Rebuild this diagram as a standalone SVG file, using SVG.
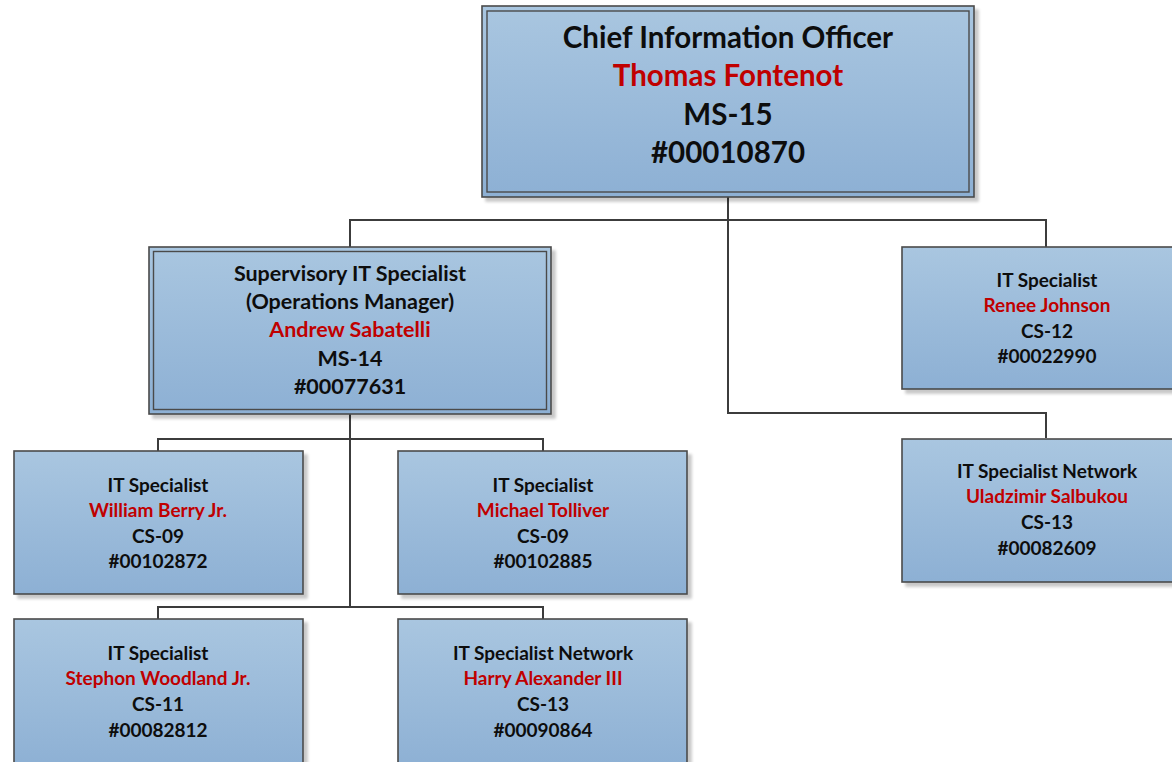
<svg xmlns="http://www.w3.org/2000/svg" width="1172" height="762" viewBox="0 0 1172 762">
  <defs>
    <linearGradient id="boxFill" x1="0" y1="0" x2="0" y2="1">
      <stop offset="0" stop-color="#a9c6e0"/>
      <stop offset="1" stop-color="#8db0d4"/>
    </linearGradient>
    <filter id="drop" x="-5%" y="-5%" width="115%" height="115%">
      <feGaussianBlur in="SourceAlpha" stdDeviation="1.5"/>
      <feOffset dx="4" dy="4"/>
      <feComponentTransfer><feFuncA type="linear" slope="0.22"/></feComponentTransfer>
      <feMerge><feMergeNode/><feMergeNode in="SourceGraphic"/></feMerge>
    </filter>
  </defs>
  <style>
    .box { fill: url(#boxFill); stroke: #4a4a4a; stroke-width: 1.6; filter: url(#drop); }
    .inner { fill: none; stroke: #4a4a4a; stroke-width: 1.4; }
    .link { fill: none; stroke: #3c3c3c; stroke-width: 2; }
    text { font-family: Lato, "Open Sans", "Liberation Sans", sans-serif; font-weight: bold; text-anchor: middle; fill: #0d0d0d; }
    .big { font-size: 29.5px; }
    .mid { font-size: 21.5px; }
    .sm { font-size: 19px; }
    .name { fill: #c00000; }
  </style>

  <rect width="1172" height="762" fill="#ffffff"/>

  <g id="connectors">
    <path class="link" d="M728 197 V220 M350 248 V220 H1046 V247"/>
    <path class="link" d="M728 220 V413 H1046 V438"/>
    <path class="link" d="M350 414 V607"/>
    <path class="link" d="M158 451 V439 H543 V451"/>
    <path class="link" d="M158 619 V607 H543 V619"/>
  </g>

  <g id="cio">
    <rect class="box" x="482" y="6" width="492" height="191"/>
    <rect class="inner" x="487" y="11" width="482" height="181"/>
    <text class="big" x="728" y="48">Chief Information Officer</text>
    <text class="big name" x="728" y="86">Thomas Fontenot</text>
    <text class="big" x="728" y="125">MS-15</text>
    <text class="big" x="728" y="163">#00010870</text>
  </g>

  <g id="supervisor">
    <rect class="box" x="149" y="247" width="402" height="167"/>
    <rect class="inner" x="153.5" y="251.5" width="393" height="158"/>
    <text class="mid" x="350" y="281">Supervisory IT Specialist</text>
    <text class="mid" x="350" y="309">(Operations Manager)</text>
    <text class="mid name" x="350" y="337">Andrew Sabatelli</text>
    <text class="mid" x="350" y="366">MS-14</text>
    <text class="mid" x="350" y="394">#00077631</text>
  </g>

  <g id="renee">
    <rect class="box" x="902" y="247" width="290" height="142"/>
    <text class="sm" x="1047" y="287">IT Specialist</text>
    <text class="sm name" x="1047" y="312">Renee Johnson</text>
    <text class="sm" x="1047" y="338">CS-12</text>
    <text class="sm" x="1047" y="363">#00022990</text>
  </g>

  <g id="uladzimir">
    <rect class="box" x="902" y="439" width="290" height="143"/>
    <text class="sm" x="1047" y="478">IT Specialist Network</text>
    <text class="sm name" x="1047" y="503">Uladzimir Salbukou</text>
    <text class="sm" x="1047" y="529">CS-13</text>
    <text class="sm" x="1047" y="555">#00082609</text>
  </g>

  <g id="william">
    <rect class="box" x="14" y="451" width="289" height="143"/>
    <text class="sm" x="158" y="492">IT Specialist</text>
    <text class="sm name" x="158" y="517">William Berry Jr.</text>
    <text class="sm" x="158" y="543">CS-09</text>
    <text class="sm" x="158" y="568">#00102872</text>
  </g>

  <g id="michael">
    <rect class="box" x="398" y="451" width="289" height="143"/>
    <text class="sm" x="543" y="492">IT Specialist</text>
    <text class="sm name" x="543" y="517">Michael Tolliver</text>
    <text class="sm" x="543" y="543">CS-09</text>
    <text class="sm" x="543" y="568">#00102885</text>
  </g>

  <g id="stephon">
    <rect class="box" x="14" y="619" width="289" height="150"/>
    <text class="sm" x="158" y="660">IT Specialist</text>
    <text class="sm name" x="158" y="685">Stephon Woodland Jr.</text>
    <text class="sm" x="158" y="711">CS-11</text>
    <text class="sm" x="158" y="737">#00082812</text>
  </g>

  <g id="harry">
    <rect class="box" x="398" y="619" width="289" height="150"/>
    <text class="sm" x="543" y="660">IT Specialist Network</text>
    <text class="sm name" x="543" y="685">Harry Alexander III</text>
    <text class="sm" x="543" y="711">CS-13</text>
    <text class="sm" x="543" y="737">#00090864</text>
  </g>
</svg>
